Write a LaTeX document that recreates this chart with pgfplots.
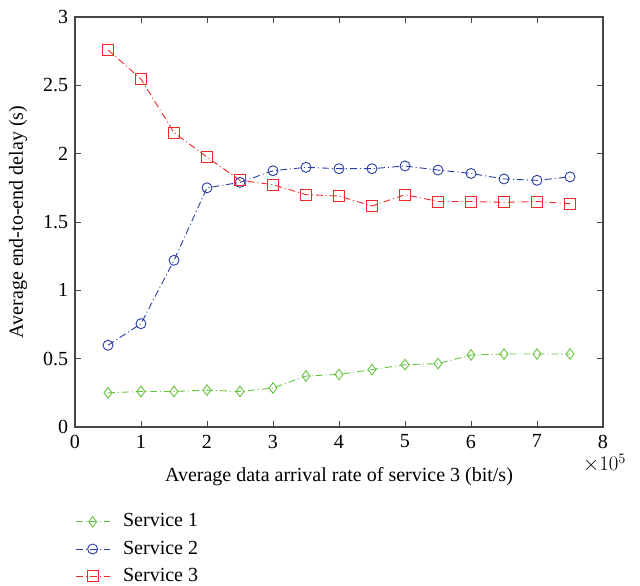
\documentclass[border=0pt]{standalone}
\usepackage{pgfplots}
\pgfplotsset{compat=1.18}
\usepackage{fontspec}
\setmainfont{Liberation Serif}

\definecolor{srvgreen}{RGB}{100,195,60}
\definecolor{srvblue}{RGB}{40,60,165}
\definecolor{srvred}{RGB}{240,40,40}
\definecolor{axisgray}{RGB}{70,70,70}

\begin{document}
\fontsize{20}{24}\selectfont
\begin{tikzpicture}
\path[use as bounding box] (-75pt,-159pt) rectangle (565pt,427pt);
\begin{axis}[
  at={(0,0)}, anchor=south west,
  scale only axis,
  width=528pt, height=410pt,
  xmin=0, xmax=8, ymin=0, ymax=3,
  xtick={0,1,...,8},
  ytick={0,0.5,...,3},
  /pgf/number format/assume math mode=true,
  yticklabel style={/pgf/number format/fixed, /pgf/number format/precision=1},
  tick align=inside,
  major tick length=6pt,
  axis line style={axisgray, line width=1.1pt},
  every tick/.style={axisgray, line width=0.9pt},
  xticklabel style={yshift=-1pt},
  xlabel={Average data arrival rate of service 3 (bit/s)},
  ylabel={Average end-to-end delay (s)},
  xlabel style={at={(axis description cs:0.5,-0.122)}, anchor=center},
  ylabel style={at={(axis description cs:-0.108,0.5)}, anchor=center},
  legend cell align=left,
  legend style={at={(axis description cs:0,-0.206)}, anchor=north west, draw=none, fill=none,
    inner sep=0pt, row sep=7pt, font=\fontsize{20}{24}\selectfont,
    /tikz/every odd column/.style={column sep=11pt}},
  legend image code/.code={
    \draw[#1, mark repeat=2, mark phase=2] plot coordinates {(0pt,0pt) (17pt,0pt) (34pt,0pt)};
  },
  every axis plot/.append style={line width=0.9pt, dash pattern=on 7pt off 3pt on 1pt off 3pt},
  after end axis/.code={
    \node[anchor=west, inner sep=0pt] at ([xshift=-20pt, yshift=-36pt]rel axis cs:1,0) {$\times 10^{5}$};
  },
]
\addplot[srvgreen, mark=diamond, mark size=5.3pt, mark options={solid, fill=none}] coordinates {
  (0.5,0.25) (1.0,0.26) (1.5,0.26) (2.0,0.27) (2.5,0.26)
  (3.0,0.285) (3.5,0.373) (4.0,0.385) (4.5,0.42) (5.0,0.456)
  (5.5,0.464) (6.0,0.527) (6.5,0.534) (7.0,0.534) (7.5,0.534)};
\addlegendentry{Service 1}
\addplot[srvblue, mark=o, mark size=5pt, mark options={solid, fill=none}] coordinates {
  (0.5,0.598) (1.0,0.756) (1.5,1.22) (2.0,1.75) (2.5,1.79)
  (3.0,1.875) (3.5,1.90) (4.0,1.89) (4.5,1.89) (5.0,1.91)
  (5.5,1.88) (6.0,1.855) (6.5,1.815) (7.0,1.805) (7.5,1.83)};
\addlegendentry{Service 2}
\addplot[srvred, mark=square, mark size=5.5pt, mark options={solid, fill=none}] coordinates {
  (0.5,2.76) (1.0,2.546) (1.5,2.154) (2.0,1.975) (2.5,1.805)
  (3.0,1.773) (3.5,1.70) (4.0,1.69) (4.5,1.617) (5.0,1.70)
  (5.5,1.65) (6.0,1.65) (6.5,1.644) (7.0,1.65) (7.5,1.634)};
\addlegendentry{Service 3}
\end{axis}
\end{tikzpicture}
\end{document}
